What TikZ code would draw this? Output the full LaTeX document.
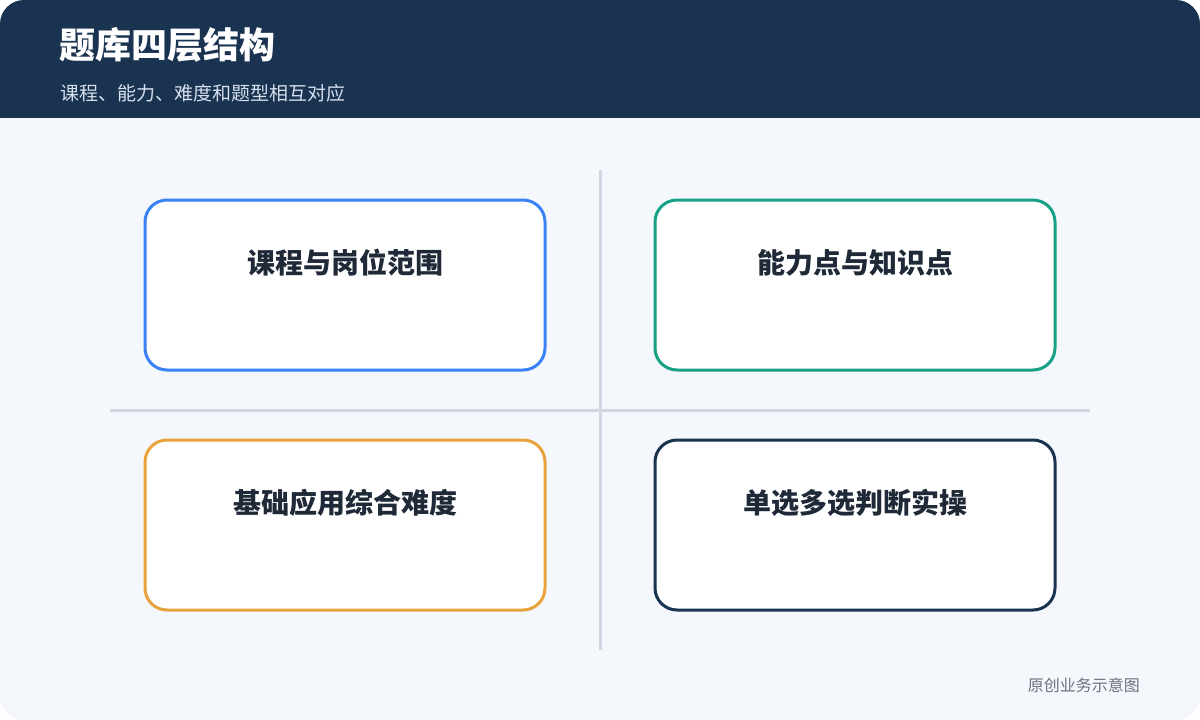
\documentclass[tikz,border=0pt]{standalone}
\usepackage{fontspec}
\setmainfont{Noto Sans CJK SC}
\definecolor{navy}{HTML}{1A3350}
\definecolor{bgc}{HTML}{F4F7FB}
\definecolor{linec}{HTML}{D0D7E2}
\definecolor{bluec}{HTML}{3B82F6}
\definecolor{tealc}{HTML}{16A085}
\definecolor{orangec}{HTML}{E8A33D}
\definecolor{textc}{HTML}{1F2937}
\definecolor{subc}{HTML}{D6E0EE}
\definecolor{footc}{HTML}{6B7280}
\tikzset{
  card/.style={draw, line width=3pt, fill=white, rounded corners=22pt, minimum width=400pt, minimum height=170pt, inner sep=0pt},
  cardtitle/.style={font=\fontsize{28pt}{32pt}\selectfont\bfseries, text=textc, anchor=center, inner sep=0pt},
  divider/.style={draw=linec, line width=3pt}
}
\begin{document}
\begin{tikzpicture}[x=1pt,y=-1pt]
\useasboundingbox (0,0) rectangle (1200,720);
\fill[white] (0,0) rectangle (1200,720);
\begin{scope}
\clip[rounded corners=24pt] (0,0) rectangle (1200,720);
\fill[bgc] (0,0) rectangle (1200,720);
\fill[navy] (0,0) rectangle (1200,118);
\end{scope}
\node[anchor=west, inner sep=0pt, text=white, font=\fontsize{36pt}{40pt}\selectfont\bfseries] (title) at (59,45) {题库四层结构};
\node[anchor=west, inner sep=0pt, text=subc, font=\fontsize{19pt}{22pt}\selectfont] (sub) at (60,93) {课程、能力、难度和题型相互对应};
\coordinate (vt) at (600,170);
\coordinate (vb) at (600,650);
\coordinate (hl) at (110,410);
\coordinate (hr) at (1090,410);
\draw[divider] (vt) -- (vb);
\draw[divider] (hl) -- (hr);
\node[card, draw=bluec] (c1) at (345,285) {};
\node[card, draw=tealc] (c2) at (855,285) {};
\node[card, draw=orangec] (c3) at (345,525) {};
\node[card, draw=navy] (c4) at (855,525) {};
\node[cardtitle] (t1) at (345,263) {课程与岗位范围};
\node[cardtitle] (t2) at (855,263) {能力点与知识点};
\node[cardtitle] (t3) at (345,503) {基础应用综合难度};
\node[cardtitle] (t4) at (855,503) {单选多选判断实操};
\node[anchor=east, inner sep=0pt, text=footc, font=\fontsize{16pt}{18pt}\selectfont] (foot) at (1140,685) {原创业务示意图};
\end{tikzpicture}
\end{document}
